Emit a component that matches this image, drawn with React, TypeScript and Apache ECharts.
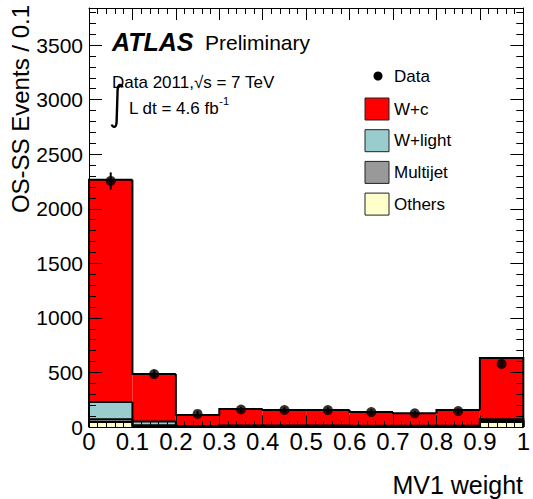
import React, { useEffect, useRef } from "react";
import * as echarts from "echarts";

// ---- data ----
const binEdges = [0, 0.1, 0.2, 0.3, 0.4, 0.5, 0.6, 0.7, 0.8, 0.9, 1.0];
const othersVals = [45, 10, 3, 3, 3, 3, 3, 3, 3, 45];
const multijetVals = [25, 5, 2, 2, 2, 2, 2, 2, 2, 10];
const wlightVals = [160, 35, 5, 8, 8, 8, 7, 6, 7, 15];
const wcVals = [2035, 436, 100, 152, 143, 142, 125, 114, 144, 563];
const dataVals = [2255, 485, 120, 160, 156, 155, 137, 125, 146, 578];
const dataErrs = [78, 35, 25, 25, 25, 25, 25, 25, 25, 40];
const legendNames = ["Data", "W+c", "W+light", "Multijet", "Others"];

const FONT = "'Liberation Sans', Arial, Helvetica, sans-serif";

const components = [
  { name: "Others", vals: othersVals, color: "#ffffcc" },
  { name: "Multijet", vals: multijetVals, color: "#999999" },
  { name: "W+light", vals: wlightVals, color: "#99cccc" },
  { name: "W+c", vals: wcVals, color: "#ff0000" },
];

function buildOption() {
  const nb = binEdges.length - 1;
  const base = new Array(nb).fill(0);
  const fillSeries: any[] = [];
  const lineSeries: any[] = [];
  components.forEach((c) => {
    const fillRows: number[][] = [];
    const lineRows: number[][] = [];
    const tops: number[] = [];
    for (let i = 0; i < nb; i++) {
      const top = base[i] + c.vals[i];
      tops.push(top);
      fillRows.push([binEdges[i], binEdges[i + 1], base[i], top]);
    }
    for (let i = 0; i < nb; i++) {
      lineRows.push([binEdges[i], binEdges[i + 1], tops[i], i === 0 ? 0 : tops[i - 1], i === nb - 1 ? 1 : 0]);
    }
    for (let i = 0; i < nb; i++) base[i] = tops[i];
    const color = c.color;
    fillSeries.push({
      type: "custom",
      name: c.name,
      z: 2,
      data: fillRows,
      renderItem: (params: any, api: any) => {
        const p0 = api.coord([api.value(0), api.value(2)]);
        const p1 = api.coord([api.value(1), api.value(3)]);
        return {
          type: "rect",
          shape: { x: p0[0], y: p1[1], width: p1[0] - p0[0], height: p0[1] - p1[1] },
          style: { fill: color, stroke: null },
        };
      },
    });
    lineSeries.push({
      type: "custom",
      name: c.name + "-outline",
      z: 3,
      data: lineRows,
      renderItem: (params: any, api: any) => {
        const x0 = api.value(0), x1 = api.value(1), top = api.value(2), prev = api.value(3), last = api.value(4);
        const pts = [api.coord([x0, prev]), api.coord([x0, top]), api.coord([x1, top])];
        if (last) pts.push(api.coord([x1, 0]));
        return {
          type: "polyline",
          shape: { points: pts },
          style: { stroke: "#000", lineWidth: 2, fill: null },
        };
      },
    });
  });

  const centers = dataVals.map((_, i) => (binEdges[i] + binEdges[i + 1]) / 2);

  const errSeries = {
    type: "custom",
    name: "Data-err",
    z: 9,
    data: dataVals.map((v, i) => [centers[i], v, dataErrs[i]]),
    renderItem: (params: any, api: any) => {
      const x = api.value(0), v = api.value(1), e = api.value(2);
      const a = api.coord([x, v - e]);
      const b = api.coord([x, v + e]);
      return {
        type: "line",
        shape: { x1: a[0], y1: a[1], x2: b[0], y2: b[1] },
        style: { stroke: "#000", lineWidth: 2 },
      };
    },
  };

  const dataSeries = {
    type: "scatter",
    name: "Data",
    z: 10,
    symbol: "circle",
    symbolSize: 10,
    itemStyle: { color: "#000" },
    data: dataVals.map((v, i) => [centers[i], v]),
  };

  const xCommon = {
    type: "value",
    min: 0,
    max: 1,
    interval: 0.1,
    z: 10,
    axisLine: { show: true, onZero: false, lineStyle: { color: "#000", width: 1 } },
    axisTick: { show: true, inside: true, length: 12, lineStyle: { color: "#000", width: 1 } },
    minorTick: { show: true, splitNumber: 5, length: 6, lineStyle: { color: "#000", width: 1 } },
    splitLine: { show: false },
    minorSplitLine: { show: false },
  };
  const yCommon = {
    type: "value",
    min: 0,
    max: 3840,
    interval: 500,
    z: 10,
    axisLine: { show: true, onZero: false, lineStyle: { color: "#000", width: 1 } },
    axisTick: { show: true, inside: true, length: 13, lineStyle: { color: "#000", width: 1 } },
    minorTick: { show: true, splitNumber: 5, length: 7, lineStyle: { color: "#000", width: 1 } },
    splitLine: { show: false },
    minorSplitLine: { show: false },
  };

  const legendColors: Record<string, string> = {};
  components.forEach((c) => (legendColors[c.name] = c.color));

  const graphic: any[] = [
    {
      type: "text",
      x: 112,
      y: 42,
      style: { text: "ATLAS", font: `italic bold 25px ${FONT}`, fill: "#000", verticalAlign: "middle" },
    },
    {
      type: "text",
      x: 205,
      y: 42,
      style: { text: "Preliminary", font: `21px ${FONT}`, fill: "#000", verticalAlign: "middle" },
    },
    {
      type: "text",
      x: 112,
      y: 82,
      style: { text: "Data 2011,\u221As = 7 TeV", font: `17px ${FONT}`, fill: "#000", verticalAlign: "middle" },
    },
    {
      type: "integral",
      x: 111,
      y: 84,
      style: { stroke: "#000", lineWidth: 2.4, fill: null },
    },
    {
      type: "text",
      x: 129,
      y: 108,
      style: {
        text: "{n|L dt = 4.6 fb}{s|-1}",
        verticalAlign: "middle",
        rich: {
          n: { font: `17px ${FONT}`, fill: "#000" },
          s: { font: `11px ${FONT}`, fill: "#000", padding: [0, 0, 14, 0] },
        },
      },
    },
    {
      type: "text",
      x: 20,
      y: 5,
      rotation: Math.PI / 2,
      style: { text: "OS-SS Events / 0.1", font: `24px ${FONT}`, fill: "#000", align: "right", verticalAlign: "middle" },
    },
    {
      type: "text",
      x: 523,
      y: 485,
      style: { text: "MV1 weight", font: `25px ${FONT}`, fill: "#000", align: "right", verticalAlign: "middle" },
    },
    { type: "circle", shape: { cx: 378, cy: 76, r: 4.5 }, style: { fill: "#000" } },
    {
      type: "text",
      x: 394,
      y: 76,
      style: { text: legendNames[0], font: `17px ${FONT}`, fill: "#000", verticalAlign: "middle" },
    },
  ];
  legendNames.slice(1).forEach((nm, k) => {
    const top = 98 + k * 31.7;
    graphic.push({
      type: "rect",
      shape: { x: 365, y: top, width: 24, height: 22 },
      style: { fill: legendColors[nm], stroke: "#222", lineWidth: 1 },
    });
    graphic.push({
      type: "text",
      x: 394,
      y: top + 11,
      style: { text: nm, font: `17px ${FONT}`, fill: "#000", verticalAlign: "middle" },
    });
  });

  return {
    animation: false,
    backgroundColor: "#fff",
    grid: { left: 89, right: 9, top: 8, bottom: 72, containLabel: false },
    xAxis: [
      {
        ...xCommon,
        position: "bottom",
        axisLabel: {
          show: true,
          color: "#000",
          fontSize: 24,
          fontFamily: FONT,
          margin: 2,
          formatter: (v: number) => String(+v.toFixed(1)),
        },
      },
      { ...xCommon, position: "top", axisLabel: { show: false } },
    ],
    yAxis: [
      {
        ...yCommon,
        position: "left",
        axisLabel: {
          show: true,
          color: "#000",
          fontSize: 21,
          fontFamily: FONT,
          margin: 6,
          showMaxLabel: false,
          formatter: (v: number) => (v % 500 === 0 ? String(v) : ""),
        },
      },
      { ...yCommon, position: "right", axisLabel: { show: false } },
    ],
    series: [...fillSeries, ...lineSeries, errSeries, dataSeries],
    graphic,
  };
}

let registered = false;
function registerShapes() {
  if (registered) return;
  registered = true;
  const d = "M11.5 3.5 C10.5 -0.5 6.8 0 6.6 6 L5.6 38 C5.4 44 1.8 44 0.8 40.5";
  echarts.graphic.registerShape("integral", echarts.graphic.extendPath(d, {}) as any);
}

export default function App() {
  const ref = useRef<HTMLDivElement>(null);
  useEffect(() => {
    if (!ref.current) return;
    registerShapes();
    const chart = echarts.init(ref.current, undefined, { renderer: "svg" });
    chart.setOption(buildOption() as any);
    return () => chart.dispose();
  }, []);
  return (
    <div
      ref={ref}
      style={{ position: "fixed", left: 0, top: 0, width: 533, height: 499, background: "#fff" }}
    />
  );
}
